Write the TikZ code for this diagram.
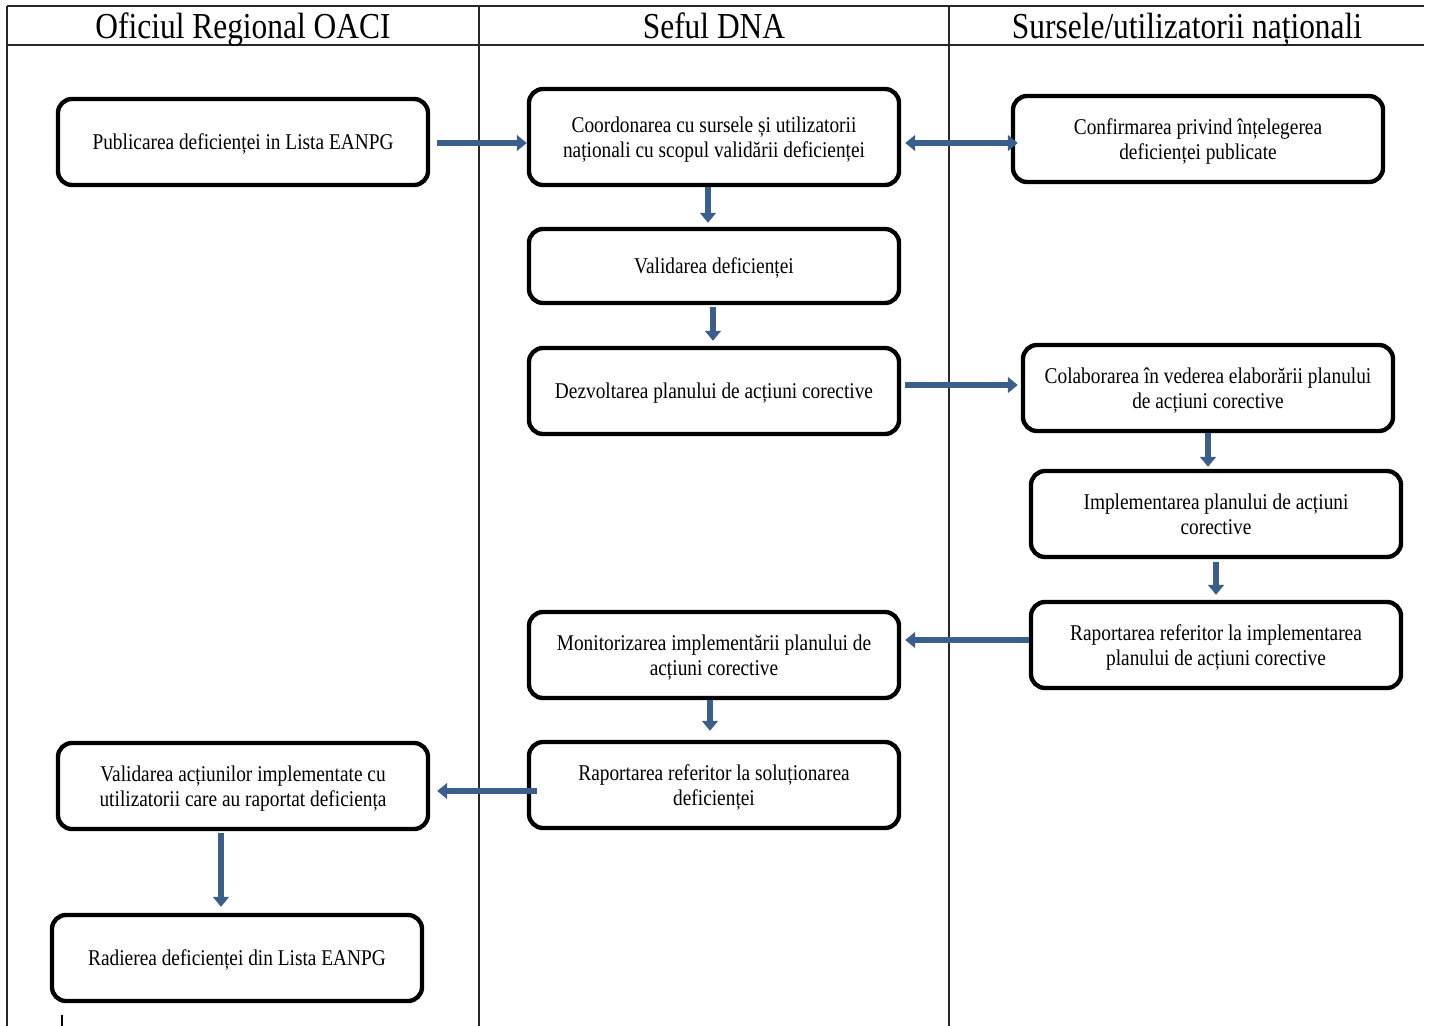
\documentclass[tikz,border=0pt]{standalone}
\usepackage{fontspec}
\setmainfont{Liberation Serif}[FakeStretch=0.86]
\usetikzlibrary{arrows.meta,calc}
\definecolor{flowblue}{RGB}{60,94,140}
\definecolor{gridline}{RGB}{40,40,40}
\begin{document}
\begin{tikzpicture}[x=0.025cm,y=-0.025cm,
 box/.style={draw=black, line width=3.1pt, rounded corners=10pt, minimum width=9.25cm, minimum height=2.15cm, align=center, font=\fontsize{16}{18}\selectfont, inner sep=2pt, text depth=-1pt},
 flow/.style={draw=flowblue, line width=4.8pt, -{Triangle[length=7pt,width=11pt]}},
 both/.style={draw=flowblue, line width=4.8pt, {Triangle[length=7pt,width=11pt]}-{Triangle[length=7pt,width=11pt]}},
 head/.style={font=\fontsize{26}{30}\selectfont, anchor=base},
 rule/.style={draw=gridline, line width=0.8pt}]

\path[use as bounding box] (0,0) rectangle (1429,1026);

% table lines
\draw[rule] (7,6) -- (1424,6);
\draw[rule, line width=1.4pt] (7,45) -- (1424,45);
\draw[rule] (7,6) -- (7,1026);
\draw[rule] (479,6) -- (479,1026);
\draw[rule] (949,6) -- (949,1026);
\draw[line width=0.8pt] (62,1015) -- (62,1026);

% headers
\node[head] (h1) at (243,38) {Oficiul Regional OACI};
\node[head] (h2) at (714,38) {Seful DNA};
\node[head] (h3) at (1187,38) {Sursele/utilizatorii naționali};

% boxes
\node[box] (pub) at (243,142) {Publicarea deficienței in Lista EANPG};
\node[box, minimum height=2.4cm] (coord) at (714,137) {Coordonarea cu sursele și utilizatorii\\naționali cu scopul validării deficienței};
\node[box] (conf) at (1198,139) {Confirmarea privind înțelegerea\\deficienței publicate};
\node[box, minimum height=1.85cm] (valid) at (714,266) {Validarea deficienței};
\node[box] (dezv) at (714,391) {Dezvoltarea planului de acțiuni corective};
\node[box] (colab) at (1208,388) {Colaborarea în vederea elaborării planului\\de acțiuni corective};
\node[box] (impl) at (1216,514) {Implementarea planului de acțiuni\\corective};
\node[box] (rapimp) at (1216,645) {Raportarea referitor la implementarea\\planului de acțiuni corective};
\node[box] (monit) at (714,655) {Monitorizarea implementării planului de\\acțiuni corective};
\node[box] (rapsol) at (714,785) {Raportarea referitor la soluționarea\\deficienței};
\node[box] (valact) at (243,786) {Validarea acțiunilor implementate cu\\utilizatorii care au raportat deficiența};
\node[box] (rad) at (237,958) {Radierea deficienței din Lista EANPG};

% connectors
\draw[flow] ($(pub.east)+(7,1)$) -- ($(coord.west|-pub.east)+(0,1)$);
\draw[both] ($(coord.east)+(4,6)$) -- ($(conf.west)+(7,4)$);
\draw[flow] ($(coord.south)+(-6,0)$) -- ($(valid.north)+(-6,-4)$);
\draw[flow] ($(valid.south)+(-1,2)$) -- ($(dezv.north)+(-1,-5)$);
\draw[flow] ($(dezv.east)+(4,-6)$) -- ($(colab.west)+(-3,-3)$);
\draw[flow] (colab.south) -- ($(impl.north)+(-8,-2)$);
\draw[flow] ($(impl.south)+(0,3)$) -- ($(rapimp.north)+(0,-5)$);
\draw[flow] ($(rapimp.west)+(0,-5)$) -- ($(monit.east)+(4,-15)$);
\draw[flow] ($(monit.south)+(-4,0)$) -- ($(rapsol.north)+(-4,-9)$);
\draw[flow] ($(rapsol.west)+(10,6)$) -- ($(valact.east)+(7,5)$);
\draw[flow] ($(valact.south)+(-22,2)$) -- ($(rad.north)+(-16,-6)$);
\end{tikzpicture}
\end{document}
